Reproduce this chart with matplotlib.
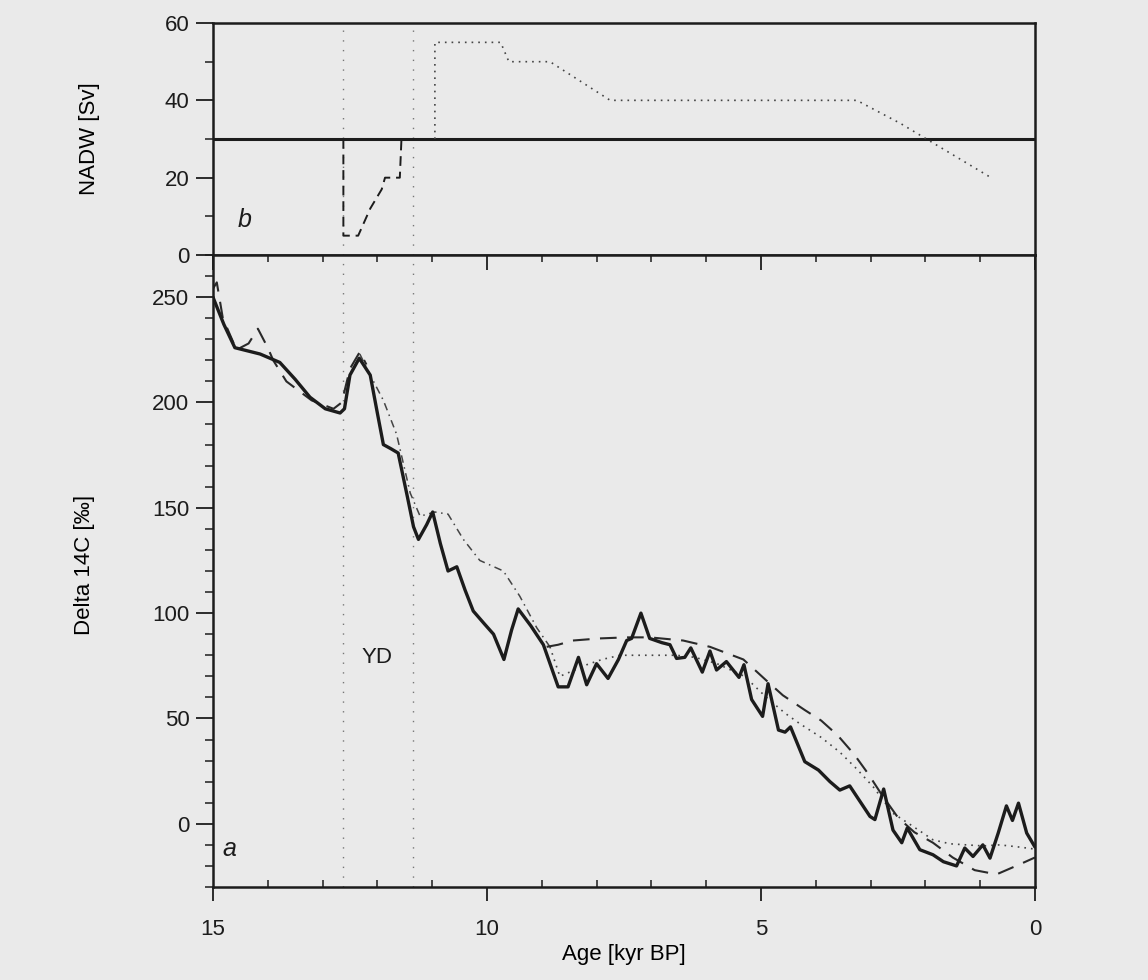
import numpy as np
import matplotlib
matplotlib.use('Agg')
import matplotlib.pyplot as plt
from matplotlib.ticker import MultipleLocator

plt.rcParams['font.family'] = ['Liberation Sans', 'DejaVu Sans']

# ---- panel b: NADW scenarios [Sv]
nadw_const_age = [15.0, 0.0]
nadw_const = [30, 30]
nadw_yd_age = [12.62, 12.62, 12.52, 12.35, 12.13, 11.92, 11.86, 11.59, 11.56]
nadw_yd = [30, 5, 5, 5, 12, 17, 20, 20, 30]
nadw_hol_age = [10.95, 10.95, 9.75, 9.6, 8.85, 7.75, 3.25, 2.45, 0.8]
nadw_hol = [30, 55, 55, 50, 50, 40, 40, 34, 20]
yd_bounds = [12.62, 11.35]

# ---- panel a: Delta 14C [permil]
data_age = [15.0, 14.8, 14.6, 14.14, 13.78, 13.5, 13.23, 12.95, 12.68, 12.6, 12.5,
            12.33, 12.13, 12.0, 11.89, 11.75, 11.62, 11.45, 11.34, 11.25, 11.1,
            10.99, 10.85, 10.71, 10.55, 10.4, 10.25, 10.05, 9.88, 9.69, 9.55,
            9.43, 9.2, 8.97, 8.70, 8.52, 8.33, 8.18, 8.0, 7.79, 7.6, 7.45, 7.36,
            7.19, 7.03, 6.81, 6.66, 6.54, 6.39, 6.28, 6.07, 5.93, 5.81, 5.63,
            5.40, 5.31, 5.17, 4.97, 4.87, 4.68, 4.56, 4.46, 4.20, 3.95, 3.74,
            3.56, 3.38, 3.01, 2.92, 2.76, 2.59, 2.43, 2.33, 2.10, 1.86, 1.67,
            1.43, 1.28, 1.13, 0.95, 0.82, 0.67, 0.52, 0.41, 0.30, 0.15, 0.0]
data_d14c = [250, 237, 226, 223, 219, 211, 202.5, 197, 195, 197, 213,
             221, 213, 195, 180, 178, 176, 155, 141, 135, 142,
             148, 133, 120, 122, 111, 101, 95, 90, 78, 92,
             102, 94, 85, 65, 65, 79, 66, 76, 69, 78, 87, 88,
             100, 88, 86, 85, 78.5, 79, 83.5, 72, 82, 73, 77,
             69.5, 75.5, 59, 51, 66.5, 44.5, 43.5, 46, 29.5, 25.5, 20,
             16, 18, 3.5, 2, 16.5, -3, -9, -2, -12.3, -14.7, -18,
             -20, -11.5, -15.5, -10, -16.3, -4.4, 8.5, 1.6, 9.8, -4.4, -11]

dash_age = [15.0, 14.93, 14.82, 14.57, 14.35, 14.18, 14.0, 13.9, 13.66, 13.2,
            12.8, 12.65, 12.5, 12.32, 12.2, np.nan,
            8.91, 8.7, 8.43, 7.94, 7.45, 7.03, 6.42, 5.93, 5.32, 4.9, 4.6,
            4.2, 3.9, 3.6, 3.3, 3.05, 2.8, 2.5, 2.2, 1.86, 1.5, 1.1, 0.7, 0.3, 0.0]
dash_d14c = [254, 257, 240, 225, 228, 235, 226, 220, 210, 201,
             197, 200, 216, 224, 218, np.nan,
             84, 85, 87, 88, 88.5, 88.5, 87, 84, 78, 68, 61,
             54, 49, 42, 33, 24, 14, 3, -4, -9, -16, -22, -24, -19.5, -16]

dashdot_age = [12.32, 12.15, 11.89, 11.65, 11.4, 11.22, 10.95, 10.71, 10.43,
               10.13, 9.7, 9.4, 9.09, 8.85]
dashdot_d14c = [223, 214, 201, 185, 157, 146, 148, 147, 135,
                125, 120, 108, 93, 84]

dot_age = [8.85, 8.67, 8.4, 8.18, 7.9, 7.57, 7.0, 6.54, 6.2, 5.8, 5.3, 4.9,
           4.56, 4.29, 3.9, 3.56, 3.25, 2.95, 2.59, 2.22, 1.86, 1.55, 1.25,
           0.95, 0.64, 0.3, 0.0]
dot_d14c = [84, 70, 73, 75.5, 78, 80, 80, 80, 79, 76, 70, 60,
            52.5, 47.5, 41, 34, 26, 17.5, 5, -1.3, -7.6, -9.5, -10,
            -10.5, -10, -11, -12]

bg = '#eaeaea'
ink = '#1c1c1c'
fs = 16

fig = plt.figure(figsize=(11.48, 9.8), dpi=100, facecolor=bg)
ax_b = fig.add_axes([0.1855, 0.7398, 0.716, 0.2367], facecolor=bg)
ax_a = fig.add_axes([0.1855, 0.0949, 0.716, 0.6449], facecolor=bg)

for ax in (ax_a, ax_b):
    ax.set_xlim(15, 0)
    for s in ax.spines.values():
        s.set_linewidth(1.8)
        s.set_color(ink)
    for xv in yd_bounds:
        ax.axvline(xv, color='#777777', lw=1.0, ls=(0, (1, 6)))
    ax.tick_params(axis='y', which='major', direction='out', length=12,
                   width=1.3, colors=ink, labelsize=fs, pad=5)
    ax.tick_params(axis='y', which='minor', direction='out', length=6,
                   width=1.1, colors=ink)
    ax.tick_params(axis='y', right=False, which='both')

# panel b
ax_b.plot(nadw_const_age, nadw_const, color=ink, lw=2.2)
ax_b.plot(nadw_yd_age, nadw_yd, color=ink, lw=1.4, ls=(0, (5, 3)))
ax_b.plot(nadw_hol_age, nadw_hol, color='#444444', lw=1.2, ls=(0, (1, 3)))
ax_b.set_ylim(0, 60)
ax_b.yaxis.set_major_locator(MultipleLocator(20))
ax_b.yaxis.set_minor_locator(MultipleLocator(10))
ax_b.tick_params(axis='x', which='both', bottom=False, top=False,
                 labelbottom=False)
ax_b.set_ylabel('NADW [Sv]', fontsize=fs)
ax_b.yaxis.set_label_coords(-0.137, 0.5)
ax_b.text(14.43, 9, 'b', fontsize=18, style='italic', ha='center',
          va='center', color=ink)

# panel a
ax_a.plot(dot_age, dot_d14c, color='#444444', lw=1.2, ls=(0, (1, 3)))
ax_a.plot(dashdot_age, dashdot_d14c, color='#444444', lw=1.1,
          ls=(0, (5, 3, 1, 3)))
ax_a.plot(dash_age, dash_d14c, color='#2a2a2a', lw=1.5, ls=(0, (8, 5)))
ax_a.plot(data_age, data_d14c, color=ink, lw=2.4,
          solid_joinstyle='round', solid_capstyle='round')
ax_a.set_ylim(-30, 270)
ax_a.yaxis.set_major_locator(MultipleLocator(50))
ax_a.yaxis.set_minor_locator(MultipleLocator(10))
ax_a.xaxis.set_major_locator(MultipleLocator(5))
ax_a.xaxis.set_minor_locator(MultipleLocator(1))
ax_a.tick_params(axis='x', which='major', direction='out', length=10,
                 width=1.3, colors=ink, labelsize=fs, pad=13)
ax_a.tick_params(axis='x', which='minor', direction='in', length=5,
                 width=1.1, colors=ink)
top = ax_a.secondary_xaxis('top')
top.xaxis.set_major_locator(MultipleLocator(5))
top.xaxis.set_minor_locator(MultipleLocator(1))
top.tick_params(axis='x', which='major', direction='in', length=11,
                width=1.3, colors=ink, labeltop=False)
top.tick_params(axis='x', which='minor', direction='in', length=5,
                width=1.1, colors=ink)
top.spines['top'].set_visible(False)
ax_a.set_ylabel('Delta 14C [‰]', fontsize=fs)
ax_a.yaxis.set_label_coords(-0.144, 0.51)
ax_a.set_xlabel('Age [kyr BP]', fontsize=fs, labelpad=3)
ax_a.text(12.0, 79, 'YD', fontsize=fs, ha='center', va='center', color=ink)
ax_a.text(14.7, -12, 'a', fontsize=18, style='italic', ha='center',
          va='center', color=ink)

fig.savefig('out.png', dpi=100, facecolor=bg)
